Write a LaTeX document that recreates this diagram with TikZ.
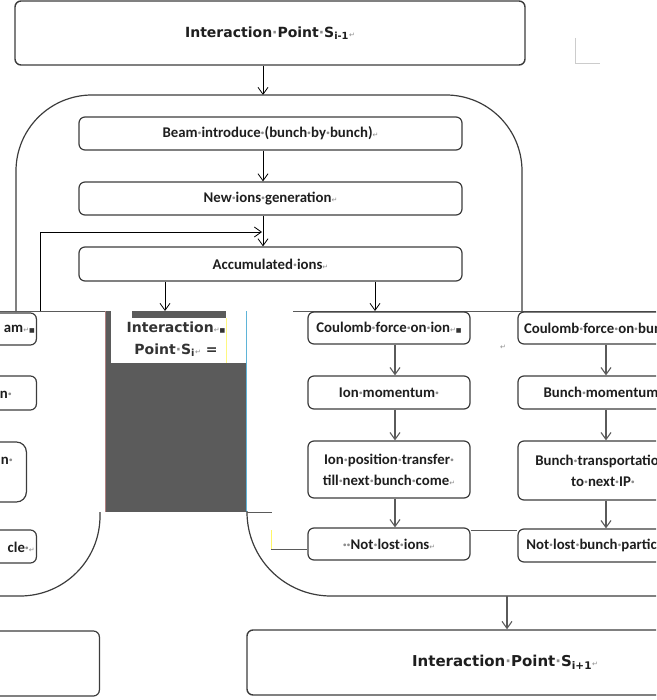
\documentclass[tikz,border=0pt]{standalone}
\usepackage{fontspec}
\usetikzlibrary{arrows.meta}
\newfontfamily\carl{Carlito}
\newfontfamily\dejavu{DejaVu Sans}
\definecolor{boxline}{HTML}{3C3C3C}
\definecolor{arrowgray}{HTML}{5A5A5A}
\definecolor{midgray}{HTML}{5B5B5B}
\definecolor{txt}{HTML}{1E1E1E}
\newcommand{\wsep}{{\color{black!45}·}}
\newcommand{\retm}{{\dejavu\mdseries\fontsize{7}{7}\selectfont\color{black!45}↵}}
\newcommand{\sqmark}{{\dejavu\fontsize{6}{6}\selectfont\color{black!80}■}}
\newcommand{\boxfont}{\carl\bfseries\fontsize{14.8}{21}\selectfont}
\newcommand{\ipfont}{\dejavu\bfseries\fontsize{14}{22}\selectfont}
\newcommand{\ipfontL}{\dejavu\bfseries\fontsize{15}{22}\selectfont}

\begin{document}
\begin{tikzpicture}[x=1pt, y=-1pt,
  ibox/.style={draw=boxline, line width=1.2pt, rounded corners=6pt, inner sep=0pt, text=txt, font=\boxfont, align=center},
  ipbox/.style={ibox, line width=1.4pt, font=\ipfont},
  lbl/.style={inner sep=0pt, text=txt, font=\boxfont},
  arr/.style={-{Straight Barb[length=7pt,width=10pt]}, line width=0.8pt},
  garr/.style={arr, draw=arrowgray, line width=1.1pt},
  frame/.style={draw=boxline, line width=1.2pt},
  thinline/.style={draw=arrowgray, line width=0.9pt}]
\useasboundingbox (0,0) rectangle (656,700);
\clip (0,0) rectangle (656,700);

% interaction point i-1
\node[ipbox, minimum width=510pt, minimum height=64pt] (ipprev) at (270,33) {Interaction\wsep Point\wsep S\textsubscript{i-1}\retm};
\draw[black!20, line width=0.8pt] (575,38) -- (575,63) -- (600,63); % corner mark

% upper loop frame
\coordinate (looptop) at (263,95);
\draw[arr] (ipprev.south -| looptop) -- (looptop);
\draw[frame, rounded corners=76pt] (16,312) -- (16,95) -- (522,95) -- (522,312);

\node[ibox, minimum width=383pt, minimum height=33pt] (beam) at (270.5,133.5) {Beam\wsep introduce\wsep (bunch\wsep by\wsep bunch)\retm};
\node[ibox, minimum width=383pt, minimum height=33pt] (newions) at (270.5,198.5) {New\wsep ions\wsep generation\retm};
\node[ibox, minimum width=383pt, minimum height=34pt] (accum) at (270.5,264) {Accumulated\wsep ions\retm};
\draw[arr] (beam.south -| looptop) -- (newions.north -| looptop);
\draw[arr] (newions.south -| looptop) -- (accum.north -| looptop);

\coordinate (fbfoot) at (40,312);
\coordinate (fbtip) at (262,232);
\draw[arr] (fbfoot) |- (fbtip); % feedback into accumulation

% band edge
\draw[thinline] (0,311) -- (105,311);
\draw[thinline] (293,311) -- (656,311);

% middle grey panel
\fill[midgray] (105,311) rectangle (246,512);
\fill[white] (111,311) rectangle (246,363);
\fill[midgray] (132,311) rectangle (226,318);
\draw[color={rgb,255:red,176;green,128;blue,128}, line width=0.8pt] (105.4,311) -- (105.4,512);
\draw[color={rgb,255:red,95;green,180;blue,216}, line width=0.8pt] (246,311) -- (246,512);
\draw[yellow!50, line width=0.6pt] (226,318) -- (226,363);
\node[font=\ipfont, text=black!80, align=center, inner sep=0pt] (ipcur) at (176,339) {Interaction\retm\sqmark\\Point\wsep S\textsubscript{i}\retm\ =};

\coordinate (bandL) at (165,311);
\coordinate (bandR) at (375,311);
\draw[arr] (accum.south -| bandL) -- (bandL);
\draw[arr] (accum.south -| bandR) -- (bandR);

% left fragments
\node[ibox, anchor=east, minimum width=140pt, minimum height=32pt] (lbox1) at (37,329) {};
\node[lbl, anchor=east] (ltxt1) at (35,329) {am\retm\sqmark};
\node[ibox, anchor=east, minimum width=140pt, minimum height=34pt] (lbox2) at (37,393) {};
\node[lbl, anchor=east] (ltxt2) at (12,395) {n\wsep};
\node[ibox, anchor=east, minimum width=140pt, minimum height=60pt, rounded corners=10pt] (lbox3) at (27,472) {};
\node[lbl, anchor=east] (ltxt3) at (13,461) {n\wsep};
\node[ibox, anchor=east, minimum width=140pt, minimum height=33pt] (lbox4) at (37,546.5) {};
\node[lbl, anchor=east] (ltxt4) at (35,547) {cle\wsep\retm};
\draw[frame, rounded corners=80pt] (100,512) -- (100,596) -- (-40,596);

% ion column
\node[ibox, minimum width=162pt, minimum height=32pt] (ionforce) at (389,328) {Coulomb\wsep force\wsep on\wsep ion\retm\sqmark};
\node[ibox, minimum width=162pt, minimum height=33pt] (ionmom) at (389,392.5) {Ion\wsep momentum\wsep};
\node[ibox, minimum width=162pt, minimum height=57pt] (ionpos) at (389,469.5) {Ion\wsep position\wsep transfer\wsep\\till\wsep next\wsep bunch\wsep come\retm};
\node[ibox, minimum width=162pt, minimum height=32pt] (ionlost) at (389,544) {\wsep\wsep Not\wsep lost\wsep ions\retm};
\draw[garr] ([xshift=6pt]ionforce.south) -- ([xshift=6pt]ionmom.north);
\draw[garr] ([xshift=6pt]ionmom.south) -- ([xshift=6pt]ionpos.north);
\draw[garr] ([xshift=6pt]ionpos.south) -- ([xshift=6pt]ionlost.north);
\node[inner sep=0pt] (retmark) at (503,347) {\retm};

% bunch column
\node[ibox, minimum width=170pt, minimum height=32pt] (bunchforce) at (603,328) {Coulomb\wsep force\wsep on\wsep bunch\retm};
\node[ibox, minimum width=170pt, minimum height=33pt] (bunchmom) at (603,392.5) {Bunch\wsep momentum\wsep};
\node[ibox, minimum width=170pt, minimum height=59pt] (bunchtr) at (603,470.5) {Bunch\wsep transportation\wsep\\to\wsep next\wsep IP\wsep};
\node[ibox, minimum width=170pt, minimum height=33pt] (bunchlost) at (603,545.5) {Not\wsep lost\wsep bunch\wsep particles\retm};
\draw[garr] ([xshift=3pt]bunchforce.south) -- ([xshift=3pt]bunchmom.north);
\draw[garr] ([xshift=3pt]bunchmom.south) -- ([xshift=3pt]bunchtr.north);
\draw[garr] ([xshift=3pt]bunchtr.south) -- ([xshift=3pt]bunchlost.north);
\draw[thinline] (ionlost.east |- 0,530) -- (bunchlost.west |- 0,530);

% right lower frame
\draw[frame, rounded corners=84pt] (247,511) -- (247,596) -- (680,596);
\draw[thinline] (247,512) -- (272,512);
\draw[yellow!60, line width=0.9pt] (271,530) -- (271,549);
\draw[thinline] (271,549) -- (ionlost.west |- 0,549);

% interaction point i+1
\node[ibox, anchor=east, minimum width=200pt, minimum height=65pt] (lbottom) at (100,663.5) {};
\node[ipbox, font=\ipfontL, minimum width=516pt, minimum height=65pt] (ipnext) at (505,662.5) {Interaction\wsep Point\wsep S\textsubscript{i+1}\retm};
\coordinate (loopbot) at (507,596);
\draw[garr] (loopbot) -- (loopbot |- ipnext.north);

\end{tikzpicture}
\end{document}
